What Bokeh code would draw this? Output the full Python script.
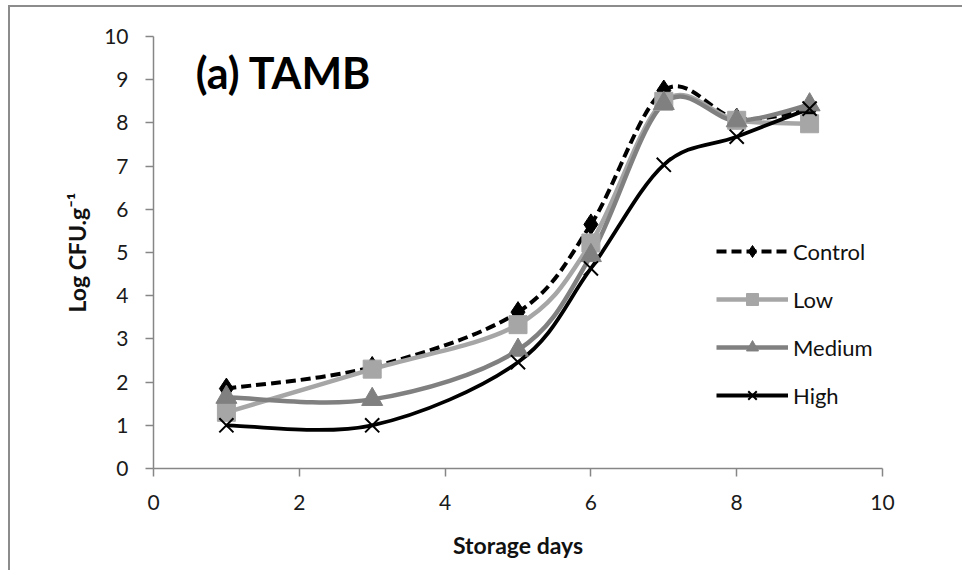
from bokeh.plotting import figure
from bokeh.models import Range1d, Legend, LegendItem, Label, ColumnDataSource, FixedTicker
from bokeh.embed import file_html
from bokeh.resources import INLINE

# ---- data ----
days = [1, 3, 5, 6, 7, 8, 9]
control = [1.85, 2.35, 3.62, 5.65, 8.75, 8.1, 8.3]
low = [1.3, 2.3, 3.33, 5.22, 8.5, 8.06, 7.98]
medium = [1.65, 1.6, 2.74, 4.93, 8.45, 8.05, 8.42]
high = [1.0, 1.0, 2.46, 4.63, 7.03, 7.68, 8.33]
series_names = ["Control", "Low", "Medium", "High"]
x_ticks = [0, 2, 4, 6, 8, 10]
y_ticks = [0, 1, 2, 3, 4, 5, 6, 7, 8, 9, 10]

FONT = "Lato"


def bezier_segments(xs, ys):
    """Smoothed-line segments (Excel-like Catmull-Rom Bezier) through the data points."""
    n = len(xs)
    seg = dict(x0=[], y0=[], x1=[], y1=[], cx0=[], cy0=[], cx1=[], cy1=[])
    for i in range(n - 1):
        ip = max(i - 1, 0)
        inn = min(i + 2, n - 1)
        seg["x0"].append(xs[i]); seg["y0"].append(ys[i])
        seg["x1"].append(xs[i + 1]); seg["y1"].append(ys[i + 1])
        seg["cx0"].append(xs[i] + (xs[i + 1] - xs[ip]) / 6.0)
        seg["cy0"].append(ys[i] + (ys[i + 1] - ys[ip]) / 6.0)
        seg["cx1"].append(xs[i + 1] - (xs[inn] - xs[i]) / 6.0)
        seg["cy1"].append(ys[i + 1] - (ys[inn] - ys[i]) / 6.0)
    return ColumnDataSource(seg)


p = figure(width=954, height=565,
           x_range=Range1d(0, 10), y_range=Range1d(0, 10),
           output_backend="svg", toolbar_location=None,
           min_border_left=143, min_border_right=82,
           min_border_top=29, min_border_bottom=104)
p.styles = {"margin-left": "8px", "margin-top": "5px",
            "border-left": "2px solid #8c8c8c", "border-top": "2px solid #8c8c8c"}
p.xgrid.visible = False
p.ygrid.visible = False
p.outline_line_color = None
p.background_fill_color = "white"
p.border_fill_color = "white"

for ax in (p.xaxis[0], p.yaxis[0]):
    ax.axis_line_color = "#868686"
    ax.axis_line_width = 1.5
    ax.major_tick_line_color = "#868686"
    ax.major_tick_line_width = 1.5
    ax.major_tick_out = 8
    ax.major_tick_in = 0
    ax.minor_tick_line_color = None
    ax.major_label_text_font = FONT
    ax.major_label_text_font_size = "21px"
    ax.major_label_text_color = "#1a1a1a"
    ax.axis_label_text_font = FONT
    ax.axis_label_text_font_style = "bold"
    ax.axis_label_text_font_size = "23px"
    ax.axis_label_text_color = "#111111"

p.xaxis.ticker = FixedTicker(ticks=x_ticks)
p.yaxis.ticker = FixedTicker(ticks=y_ticks)
p.xaxis.axis_label = "Storage days"
p.yaxis.axis_label = "Log CFU.g\u207b\u00b9"
p.xaxis.major_label_standoff = 18
p.yaxis.major_label_standoff = 17
p.xaxis.axis_label_standoff = 18
p.yaxis.axis_label_standoff = 10

styles = {
    "Control": dict(line_color="black", line_width=4, line_dash="10 5",
                    marker="diamond", size=21, fill="black", mline="black", mlw=1),
    "Low": dict(line_color="#a6a6a6", line_width=4.5, line_dash="solid",
                marker="square", size=18, fill="#a6a6a6", mline="#a6a6a6", mlw=1),
    "Medium": dict(line_color="#808080", line_width=4.5, line_dash="solid",
                   marker="triangle", size=21, fill="#808080", mline="#808080", mlw=1),
    "High": dict(line_color="black", line_width=3.8, line_dash="solid",
                 marker="x", size=20, fill="black", mline="black", mlw=2),
}
values = {"Control": control, "Low": low, "Medium": medium, "High": high}

items = []
for name in series_names:
    st = styles[name]
    ys = values[name]
    p.bezier(x0="x0", y0="y0", x1="x1", y1="y1", cx0="cx0", cy0="cy0",
             cx1="cx1", cy1="cy1", source=bezier_segments(days, ys),
             line_color=st["line_color"], line_width=st["line_width"],
             line_dash=st["line_dash"])
for name in series_names:
    st = styles[name]
    ys = values[name]
    sc = p.scatter(days, ys, marker=st["marker"], size=st["size"],
                   fill_color=st["fill"], line_color=st["mline"],
                   line_width=st["mlw"])
    # single-point line: draws nothing in the plot, only provides the legend stroke
    lg_line = p.line(x=days[:1], y=ys[:1], line_color=st["line_color"],
                     line_width=st["line_width"], line_dash=st["line_dash"])
    items.append(LegendItem(label=name, renderers=[lg_line, sc]))

legend = Legend(items=items, location=(563, 58),
                glyph_width=72, glyph_height=30, label_height=30,
                spacing=18, padding=0, margin=0, label_standoff=5,
                border_line_color=None, background_fill_alpha=0,
                label_text_font=FONT, label_text_font_size="22px",
                label_text_color="#111111")
p.add_layout(legend)

title = Label(x=0.58, y=9.17, text="(a) TAMB", text_font=FONT,
              text_font_style="bold", text_font_size="43px",
              text_color="black", text_baseline="alphabetic")
p.add_layout(title)

open("out.html", "w").write(file_html(p, INLINE))
